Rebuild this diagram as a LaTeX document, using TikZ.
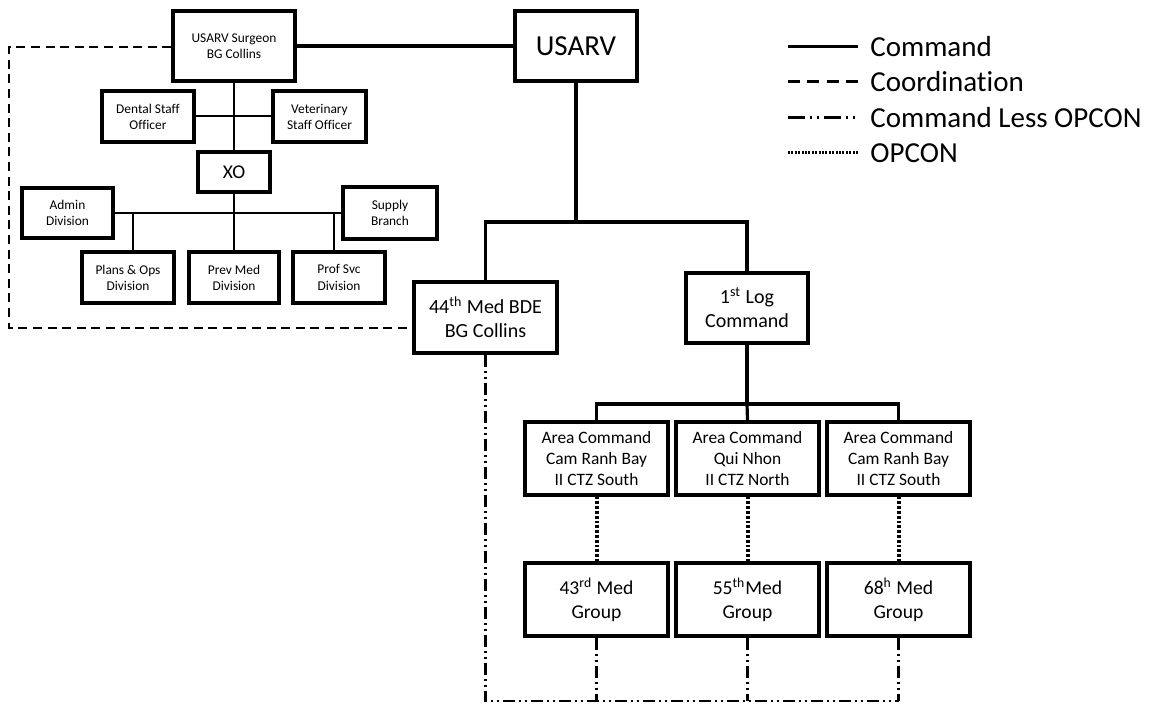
\documentclass[tikz,border=0pt]{standalone}
\usepackage{fontspec}
\setmainfont{Carlito}[Ligatures={NoCommon}]
\newcommand{\fs}[1]{\fontsize{#1}{1.2\dimexpr#1pt\relax}\selectfont}
\tikzset{
  box/.style={draw, line width=1.7pt, align=center, inner sep=0pt},
  cmd/.style={line width=1.6pt},
  cmdthin/.style={line width=1pt},
  coord/.style={line width=1.3pt, dash pattern=on 4.5pt off 2.8pt},
  clo/.style={line width=1.3pt, dash pattern=on 6pt off 2pt on 1pt off 2pt on 1pt off 2pt},
  opc/.style={line width=2pt, dash pattern=on 1.4pt off 1pt},
  lgcmd/.style={line width=1.5pt},
  lgcoord/.style={line width=1.5pt, dash pattern=on 6pt off 3.67pt},
  lgclo/.style={line width=1.5pt, dash pattern=on 8.5pt off 2.5pt on 1pt off 2.5pt on 1pt off 2.5pt},
  lgopc/.style={line width=1.5pt, dash pattern=on 1pt off 0.7pt},
  lgtext/.style={anchor=west, inner sep=0pt, font=\fs{14.5}},
}
\begin{document}
\begin{tikzpicture}[x=0.5pt, y=-0.5pt]
\useasboundingbox (0,0) rectangle (1156,704);
% top boxes
\node[box, minimum width=61pt, minimum height=35pt, font=\fs{6.7}] (surg) at (234,46) {USARV Surgeon\\BG Collins};
\node[box, minimum width=61pt, minimum height=35pt, font=\fs{14.5}] (usarv) at (576,46) {USARV};
\node[box, minimum width=46pt, minimum height=25.5pt, font=\fs{6.7}] (dent) at (148,116.5) {Dental Staff\\Officer};
\node[box, minimum width=46.5pt, minimum height=25.5pt, font=\fs{6.7}] (vet) at (319.5,116.5) {Veterinary\\Staff Officer};
\node[box, minimum width=36pt, minimum height=20pt, font=\fs{9.75}] (xo) at (234,172) {XO};
\node[box, minimum width=45.5pt, minimum height=25pt, font=\fs{6.7}] (admin) at (67.5,213) {Admin\\Division};
\node[box, minimum width=47pt, minimum height=26pt, font=\fs{6.7}] (supply) at (390,213) {Supply\\Branch};
\node[box, minimum width=46pt, minimum height=25.5pt, font=\fs{6.7}] (plans) at (128,277.5) {Plans \& Ops\\Division};
\node[box, minimum width=45pt, minimum height=25.5pt, font=\fs{6.7}] (prev) at (234,277.5) {Prev Med\\Division};
\node[box, minimum width=46pt, minimum height=25.5pt, font=\fs{6.7}] (prof) at (339,277.5) {Prof Svc\\Division};
% brigade / log
\node[box, minimum width=71.5pt, minimum height=35.5pt, font=\fs{10}] (bde) at (485.5,317.5) {44\textsuperscript{th} Med BDE\\BG Collins};
\node[box, minimum width=61pt, minimum height=35pt, font=\fs{10}] (log) at (747,308) {1\textsuperscript{st} Log\\Command};
% area commands
\node[box, minimum width=71.5pt, minimum height=36.5pt, font=\fs{8.7}] (a1) at (596.5,458.5) {Area Command\\Cam Ranh Bay\\II CTZ South};
\node[box, minimum width=71.5pt, minimum height=36.5pt, font=\fs{8.7}] (a2) at (747.5,458.5) {Area Command\\Qui Nhon\\II CTZ North};
\node[box, minimum width=71.5pt, minimum height=36.5pt, font=\fs{8.7}] (a3) at (898.5,458.5) {Area Command\\Cam Ranh Bay\\II CTZ South};
% med groups
\node[box, minimum width=71.5pt, minimum height=36.5pt, font=\fs{9.8}] (m1) at (596.5,599.5) {43\textsuperscript{rd} Med\\Group};
\node[box, minimum width=71.5pt, minimum height=36.5pt, font=\fs{9.8}] (m2) at (747.5,599.5) {55\textsuperscript{th}Med\\Group};
\node[box, minimum width=71.5pt, minimum height=36.5pt, font=\fs{9.8}] (m3) at (898.5,599.5) {68\textsuperscript{h} Med\\Group};
% surgeon office connectors
\draw[cmd] (surg) -- (usarv);
\draw[cmdthin] (surg) -- (xo);
\draw[cmdthin] (dent) -- (vet);
\draw[cmdthin] (admin.east) -- (supply.west);
\coordinate (jp) at (133,212);
\coordinate (jq) at (334,212);
\draw[cmdthin] (jp) -- (jp |- plans.north);
\draw[cmdthin] (xo) -- (prev);
\draw[cmdthin] (jq) -- (jq |- prof.north);
% USARV tree
\coordinate (bus1) at (576,222);
\draw[cmd] (usarv) -- (bus1);
\draw[cmd] (bde.north) |- (bus1) -| (log.north);
\coordinate (bus2) at (747,404);
\draw[cmd] (log) -- (bus2);
\draw[cmd] (a1.north) |- (bus2) -| (a3.north);
\draw[cmd] (bus2) -- (a2.north);
% coordination
\coordinate (c1) at (9,47);
\coordinate (c2) at (9,328);
\draw[coord] (surg.west |- c1) -- (c1) -- (c2) -- (c2 -| bde.west);
% OPCON
\draw[opc] (a1) -- (m1);
\draw[opc] (a2) -- (m2);
\draw[opc] (a3) -- (m3);
% command less OPCON
\coordinate (b0) at (485.5,701);
\draw[clo] (bde.south) -- (b0) -- (b0 -| m3.south);
\draw[clo] (m1.south) -- (m1.south |- b0);
\draw[clo] (m2.south) -- (m2.south |- b0);
\draw[clo] (m3.south) -- (m3.south |- b0);
% legend
\coordinate (l1) at (788,47);
\coordinate (l2) at (788,82);
\coordinate (l3) at (788,118);
\coordinate (l4) at (788,153);
\node[lgtext] (t1) at (870,47) {Command};
\node[lgtext] (t2) at (870,82) {Coordinat\kern0pt ion};
\node[lgtext] (t3) at (870,118) {Command Less OPCON};
\node[lgtext] (t4) at (870,153) {OPCON};
\draw[lgcmd] (l1) -- ++(70,0) coordinate (e1);
\draw[lgcoord] (l2) -- ++(70,0) coordinate (e2);
\draw[lgclo] (l3) -- ++(70,0) coordinate (e3);
\draw[lgopc] (l4) -- ++(70,0) coordinate (e4);
\end{tikzpicture}
\end{document}
